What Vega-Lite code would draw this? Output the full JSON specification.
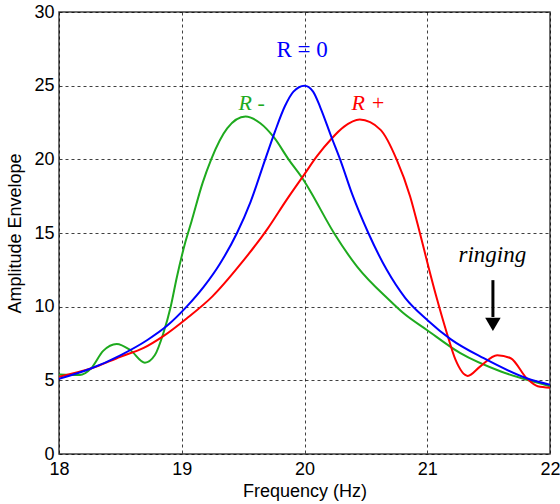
{
  "$schema": "https://vega.github.io/schema/vega-lite/v6.json",
  "width": 491,
  "height": 442,
  "autosize": "none",
  "padding": {"left": 59, "top": 12, "right": 10, "bottom": 50},
  "background": "white",
  "config": {
    "view": {"stroke": "#404040", "strokeWidth": 1.5},
    "axis": {
      "domain": false,
      "ticks": false,
      "grid": true,
      "gridColor": "#000000",
      "gridDash": [3, 3],
      "gridOpacity": 0.75,
      "gridWidth": 1,
      "labelFont": "Liberation Sans",
      "labelFontSize": 18,
      "labelColor": "#000000",
      "labelFlush": false,
      "format": "d",
      "titleFont": "Liberation Sans",
      "titleFontSize": 18,
      "titleFontWeight": "normal",
      "titleColor": "#000000"
    }
  },
  "layer": [
    {
      "data": {
        "values": [
          {"f": 18.0, "v": 5.4, "s": "R -"},
          {"f": 18.17, "v": 5.36, "s": "R -"},
          {"f": 18.26, "v": 5.8, "s": "R -"},
          {"f": 18.36, "v": 7.0, "s": "R -"},
          {"f": 18.47, "v": 7.47, "s": "R -"},
          {"f": 18.58, "v": 7.06, "s": "R -"},
          {"f": 18.7, "v": 6.2, "s": "R -"},
          {"f": 18.78, "v": 6.7, "s": "R -"},
          {"f": 18.85, "v": 8.2, "s": "R -"},
          {"f": 18.91, "v": 10.0, "s": "R -"},
          {"f": 18.96, "v": 12.0, "s": "R -"},
          {"f": 19.03, "v": 14.4, "s": "R -"},
          {"f": 19.08, "v": 15.8, "s": "R -"},
          {"f": 19.17, "v": 18.4, "s": "R -"},
          {"f": 19.24, "v": 20.0, "s": "R -"},
          {"f": 19.37, "v": 22.1, "s": "R -"},
          {"f": 19.52, "v": 22.9, "s": "R -"},
          {"f": 19.64, "v": 22.45, "s": "R -"},
          {"f": 19.75, "v": 21.5, "s": "R -"},
          {"f": 19.87, "v": 20.0, "s": "R -"},
          {"f": 20.0, "v": 18.5, "s": "R -"},
          {"f": 20.05, "v": 17.8, "s": "R -"},
          {"f": 20.24, "v": 15.0, "s": "R -"},
          {"f": 20.43, "v": 12.7, "s": "R -"},
          {"f": 20.69, "v": 10.45, "s": "R -"},
          {"f": 20.8, "v": 9.6, "s": "R -"},
          {"f": 21.0, "v": 8.4, "s": "R -"},
          {"f": 21.27, "v": 6.84, "s": "R -"},
          {"f": 21.6, "v": 5.6, "s": "R -"},
          {"f": 21.87, "v": 4.9, "s": "R -"},
          {"f": 22.0, "v": 4.6, "s": "R -"},

          {"f": 18.0, "v": 5.25, "s": "R +"},
          {"f": 18.26, "v": 5.8, "s": "R +"},
          {"f": 18.5, "v": 6.6, "s": "R +"},
          {"f": 18.69, "v": 7.2, "s": "R +"},
          {"f": 18.85, "v": 8.0, "s": "R +"},
          {"f": 19.04, "v": 9.2, "s": "R +"},
          {"f": 19.25, "v": 10.7, "s": "R +"},
          {"f": 19.48, "v": 12.9, "s": "R +"},
          {"f": 19.7, "v": 15.3, "s": "R +"},
          {"f": 19.85, "v": 17.2, "s": "R +"},
          {"f": 20.0, "v": 19.0, "s": "R +"},
          {"f": 20.1, "v": 20.2, "s": "R +"},
          {"f": 20.22, "v": 21.4, "s": "R +"},
          {"f": 20.32, "v": 22.2, "s": "R +"},
          {"f": 20.45, "v": 22.7, "s": "R +"},
          {"f": 20.62, "v": 22.0, "s": "R +"},
          {"f": 20.75, "v": 20.0, "s": "R +"},
          {"f": 20.86, "v": 17.5, "s": "R +"},
          {"f": 20.94, "v": 15.0, "s": "R +"},
          {"f": 21.01, "v": 12.7, "s": "R +"},
          {"f": 21.08, "v": 10.5, "s": "R +"},
          {"f": 21.16, "v": 8.2, "s": "R +"},
          {"f": 21.23, "v": 6.4, "s": "R +"},
          {"f": 21.33, "v": 5.3, "s": "R +"},
          {"f": 21.43, "v": 5.93, "s": "R +"},
          {"f": 21.57, "v": 6.7, "s": "R +"},
          {"f": 21.68, "v": 6.5, "s": "R +"},
          {"f": 21.81, "v": 5.14, "s": "R +"},
          {"f": 21.9, "v": 4.6, "s": "R +"},
          {"f": 22.0, "v": 4.5, "s": "R +"},

          {"f": 18.0, "v": 5.1, "s": "R = 0"},
          {"f": 18.26, "v": 5.8, "s": "R = 0"},
          {"f": 18.5, "v": 6.7, "s": "R = 0"},
          {"f": 18.72, "v": 7.74, "s": "R = 0"},
          {"f": 18.88, "v": 8.7, "s": "R = 0"},
          {"f": 19.04, "v": 10.0, "s": "R = 0"},
          {"f": 19.18, "v": 11.36, "s": "R = 0"},
          {"f": 19.31, "v": 12.9, "s": "R = 0"},
          {"f": 19.45, "v": 15.0, "s": "R = 0"},
          {"f": 19.56, "v": 17.1, "s": "R = 0"},
          {"f": 19.68, "v": 20.0, "s": "R = 0"},
          {"f": 19.76, "v": 21.9, "s": "R = 0"},
          {"f": 19.84, "v": 23.6, "s": "R = 0"},
          {"f": 19.91, "v": 24.6, "s": "R = 0"},
          {"f": 20.0, "v": 25.0, "s": "R = 0"},
          {"f": 20.07, "v": 24.6, "s": "R = 0"},
          {"f": 20.13, "v": 23.5, "s": "R = 0"},
          {"f": 20.22, "v": 21.5, "s": "R = 0"},
          {"f": 20.29, "v": 20.0, "s": "R = 0"},
          {"f": 20.39, "v": 17.6, "s": "R = 0"},
          {"f": 20.52, "v": 15.0, "s": "R = 0"},
          {"f": 20.67, "v": 12.5, "s": "R = 0"},
          {"f": 20.82, "v": 10.6, "s": "R = 0"},
          {"f": 21.0, "v": 9.1, "s": "R = 0"},
          {"f": 21.19, "v": 7.8, "s": "R = 0"},
          {"f": 21.46, "v": 6.5, "s": "R = 0"},
          {"f": 21.81, "v": 5.14, "s": "R = 0"},
          {"f": 22.0, "v": 4.7, "s": "R = 0"}
        ]
      },
      "mark": {"type": "line", "interpolate": "monotone", "strokeWidth": 2, "clip": true},
      "encoding": {
        "x": {
          "field": "f", "type": "quantitative",
          "scale": {"domain": [18, 22], "nice": false, "zero": false},
          "axis": {"values": [18, 19, 20, 21, 22], "title": "Frequency (Hz)", "labelPadding": 6, "titlePadding": 4}
        },
        "y": {
          "field": "v", "type": "quantitative",
          "scale": {"domain": [0, 30], "nice": false},
          "axis": {"values": [0, 5, 10, 15, 20, 25, 30], "title": "Amplitude Envelope", "labelPadding": 5, "titlePadding": 9}
        },
        "color": {
          "field": "s", "type": "nominal",
          "scale": {"domain": ["R -", "R +", "R = 0"], "range": ["#1eaa1e", "#ff0000", "#0000ff"]},
          "legend": null
        },
        "order": {"field": "s"}
      }
    },
    {
      "data": {"values": [{"label": "R = 0", "s": "R = 0", "f": 19.98, "v": 26.95}]},
      "mark": {"type": "text", "font": "Liberation Serif", "fontSize": 23, "align": "center", "baseline": "alphabetic"},
      "encoding": {
        "x": {"field": "f", "type": "quantitative"},
        "y": {"field": "v", "type": "quantitative"},
        "text": {"field": "label"},
        "color": {"field": "s", "type": "nominal", "legend": null}
      }
    },
    {
      "data": {"values": [
        {"label": "R -", "s": "R -", "f": 19.57, "v": 23.35},
        {"label": "R +", "s": "R +", "f": 20.52, "v": 23.35}
      ]},
      "mark": {"type": "text", "font": "Liberation Serif", "fontSize": 22, "fontStyle": "italic", "align": "center", "baseline": "alphabetic"},
      "encoding": {
        "x": {"field": "f", "type": "quantitative"},
        "y": {"field": "v", "type": "quantitative"},
        "text": {"field": "label"},
        "color": {"field": "s", "type": "nominal", "legend": null}
      }
    },
    {
      "data": {"values": [{"label": "ringing", "f": 21.53, "v": 13.03}]},
      "mark": {"type": "text", "font": "Liberation Serif", "fontSize": 23, "fontStyle": "italic", "align": "center", "baseline": "alphabetic", "color": "#000000"},
      "encoding": {
        "x": {"field": "f", "type": "quantitative"},
        "y": {"field": "v", "type": "quantitative"},
        "text": {"field": "label"}
      }
    },
    {
      "data": {"values": [{"f": 21.535, "v": 11.8, "v2": 9.3}]},
      "mark": {"type": "rule", "strokeWidth": 3, "color": "#000000"},
      "encoding": {
        "x": {"field": "f", "type": "quantitative"},
        "y": {"field": "v", "type": "quantitative"},
        "y2": {"field": "v2"}
      }
    },
    {
      "data": {"values": [{"f": 21.535, "v": 8.8}]},
      "mark": {"type": "point", "shape": "triangle-down", "filled": true, "size": 240, "color": "#000000", "opacity": 1},
      "encoding": {
        "x": {"field": "f", "type": "quantitative"},
        "y": {"field": "v", "type": "quantitative"}
      }
    }
  ]
}
